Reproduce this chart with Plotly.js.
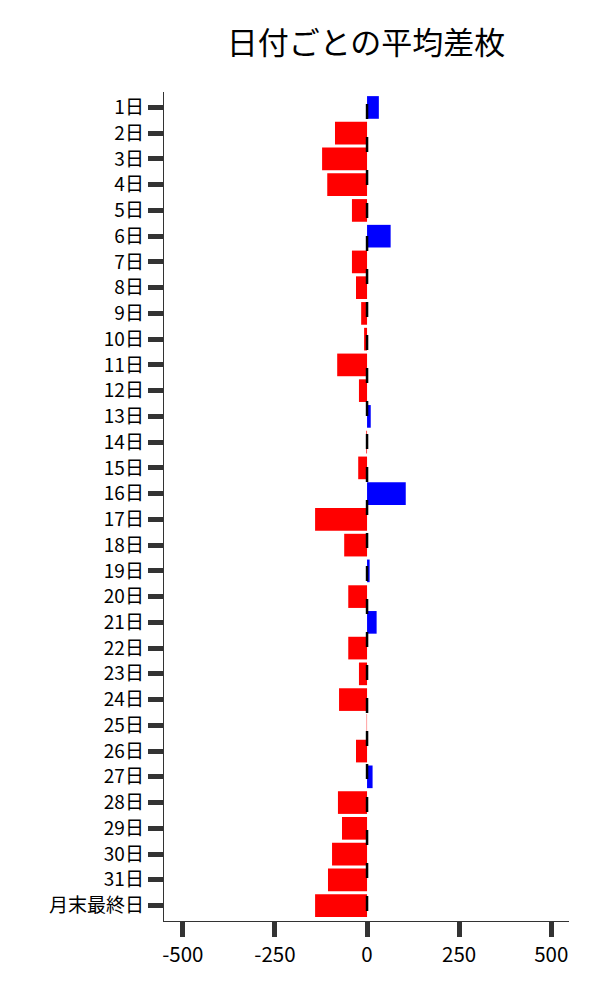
<!DOCTYPE html>
<html>
<head>
<meta charset="utf-8">
<script src="https://cdn.plot.ly/plotly-3.0.1.min.js"></script>
<style>html,body{margin:0;padding:0;background:#fff;}#chart{width:600px;height:1000px;}</style>
</head>
<body>
<div id="chart"></div>
<script>
const categories = ["1日","2日","3日","4日","5日","6日","7日","8日","9日","10日","11日","12日","13日","14日","15日","16日","17日","18日","19日","20日","21日","22日","23日","24日","25日","26日","27日","28日","29日","30日","31日","月末最終日"];
const avgDiff = [32,-87,-122,-108,-41,64,-41,-30,-16,-8,-81,-22,10,-2,-24,105,-141,-62,7,-51,26,-51,-22,-76,-1,-30,15,-79,-68,-95,-106,-141];
const xTickVals = [-500,-250,0,250,500];
const xTickText = ["-500","-250","0","250","500"];
const posColor = "#0000ff";
const negColor = "#ff0000";

const colors = avgDiff.map(v => v >= 0 ? posColor : negColor);
const font = "Noto Sans CJK JP";

const trace = {
  type: "bar",
  orientation: "h",
  x: avgDiff,
  y: categories,
  marker: {color: colors, line: {width: 0}},
  width: 0.88,
  hoverinfo: "x+y"
};

const layout = {
  width: 600, height: 1000,
  margin: {l: 164, r: 31, t: 92, b: 79},
  paper_bgcolor: "#fff", plot_bgcolor: "#fff",
  showlegend: false,
  font: {family: font, size: 19, color: "#000"},
  title: {text: "日付ごとの平均差枚", font: {family: font, size: 31, color: "#000"},
          x: 0.61, xanchor: "center", y: 0.957, yanchor: "middle", yref: "container"},
  xaxis: {
    range: [-551, 548], tickvals: xTickVals, ticktext: xTickText,
    showgrid: false, zeroline: false,
    showline: true, linecolor: "#333", linewidth: 1.3,
    ticks: "outside", ticklen: 15, tickwidth: 5, tickcolor: "#333",
    tickfont: {family: font, size: 20.5, color: "#000"}
  },
  yaxis: {
    type: "category", range: [31.6, -0.6],
    showgrid: false, zeroline: false,
    showline: true, linecolor: "#333", linewidth: 1.3,
    ticks: "outside", ticklen: 15, tickwidth: 5, tickcolor: "#333",
    tickfont: {family: font, size: 19, color: "#000"}
  },
  shapes: [{
    type: "line", xref: "x", yref: "y", layer: "above",
    x0: 0, x1: 0, y0: -0.13, y1: 31.6,
    line: {color: "#000", width: 2.5, dash: "15px,18px"}
  }]
};

Plotly.newPlot("chart", [trace], layout, {displayModeBar: false, staticPlot: true});
</script>
</body>
</html>
